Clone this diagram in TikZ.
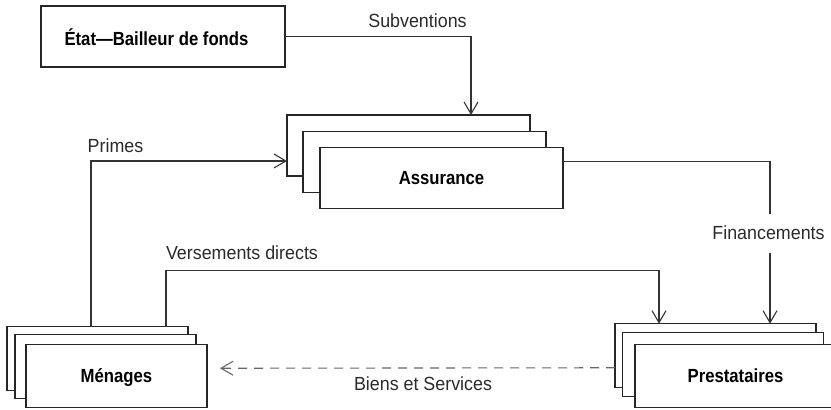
\documentclass[tikz,border=0pt]{standalone}
\usepackage{fontspec}
\setmainfont{Liberation Sans}[FakeStretch=0.94, BoldFeatures={FakeStretch=0.88}]
\usetikzlibrary{arrows.meta,calc}
\definecolor{lineclr}{HTML}{333333}
\definecolor{dashclr}{HTML}{666666}
\definecolor{txtclr}{HTML}{2A2A2A}
\tikzset{
  stackbox/.style={draw=black!85, fill=white, line width=1.2pt, inner sep=0pt, outer sep=0pt,
    font=\fontsize{19}{22}\selectfont\bfseries},
  lbl/.style={anchor=base, inner sep=0pt, text=txtclr, font=\fontsize{19}{22}\selectfont},
  conn/.style={draw=lineclr, line width=1.1pt},
  arr/.style={conn, -{Straight Barb[length=12pt,width=14pt,line width=1.1pt]}},
  dasharr/.style={draw=dashclr, line width=1.1pt, dash pattern=on 9pt off 7pt,
    -{Straight Barb[length=12pt,width=14pt,line width=1.1pt]}},
}
\begin{document}
\begin{tikzpicture}[x=1pt,y=-1pt]
\useasboundingbox (0,0) rectangle (831,410);
% Etat
\node[stackbox, minimum width=244pt, minimum height=61pt,
  label={[xshift=-6.5pt,yshift=-1pt,font=\fontsize{19}{22}\selectfont\bfseries]center:État—Bailleur de fonds}] (etat) at (163,36.5) {};
% Assurance stack
\node[stackbox, minimum width=243pt, minimum height=61pt] (ass1) at (408.5,145.5) {};
\node[stackbox, minimum width=243pt, minimum height=61pt] (ass2) at (424.5,162) {};
\node[stackbox, minimum width=243pt, minimum height=61pt, text depth=0pt] (ass) at (441.5,178) {Assurance};
% Menages stack
\node[stackbox, minimum width=181pt, minimum height=63.5pt] (men1) at (97.5,358.5) {};
\node[stackbox, minimum width=181pt, minimum height=63.5pt] (men2) at (105.5,366.5) {};
\node[stackbox, minimum width=181pt, minimum height=63.5pt, text depth=0pt] (men) at (116.5,376) {Ménages};
% Prestataires stack
\node[stackbox, minimum width=201pt, minimum height=63.5pt] (pre1) at (715.5,355.5) {};
\node[stackbox, minimum width=201pt, minimum height=63.5pt] (pre2) at (723,364.5) {};
\node[stackbox, minimum width=201pt, minimum height=63.5pt, text depth=0pt] (pre) at (735.5,376) {Prestataires};
% labels
\node[lbl] (lsub) at (417.5,27.5) {Subventions};
\node[lbl] (lprim) at (115.5,152) {Primes};
\node[lbl] (lvers) at (242,259) {Versements directs};
\node[lbl, inner ysep=12pt] (lfin) at (768.5,239) {Financements};
\node[lbl] (lbiens) at (423,390) {Biens et Services};
% connectors
\draw[arr] (etat.east) -| ($(ass1.north west)+(184,0)$);
\draw[arr] ($(men1.north west)+(84,0)$) |- ($(ass1.north west)+(0,46)$);
\draw[arr] ($(men1.north west)+(159,0)$) |- ($(pre1.north west)+(44,-53)$) -- ($(pre1.north west)+(44,0)$);
\draw[conn] ($(ass.north east)+(0,14)$) -| ($(pre1.north west)+(155,-110)$);
\draw[arr] ($(pre1.north west)+(155,-71)$) -- ($(pre1.north west)+(155,0)$);
\draw[dasharr] ($(pre1.north west)+(0,44)$) -- ($(men.north east)+(13,24)$);
\end{tikzpicture}
\end{document}
